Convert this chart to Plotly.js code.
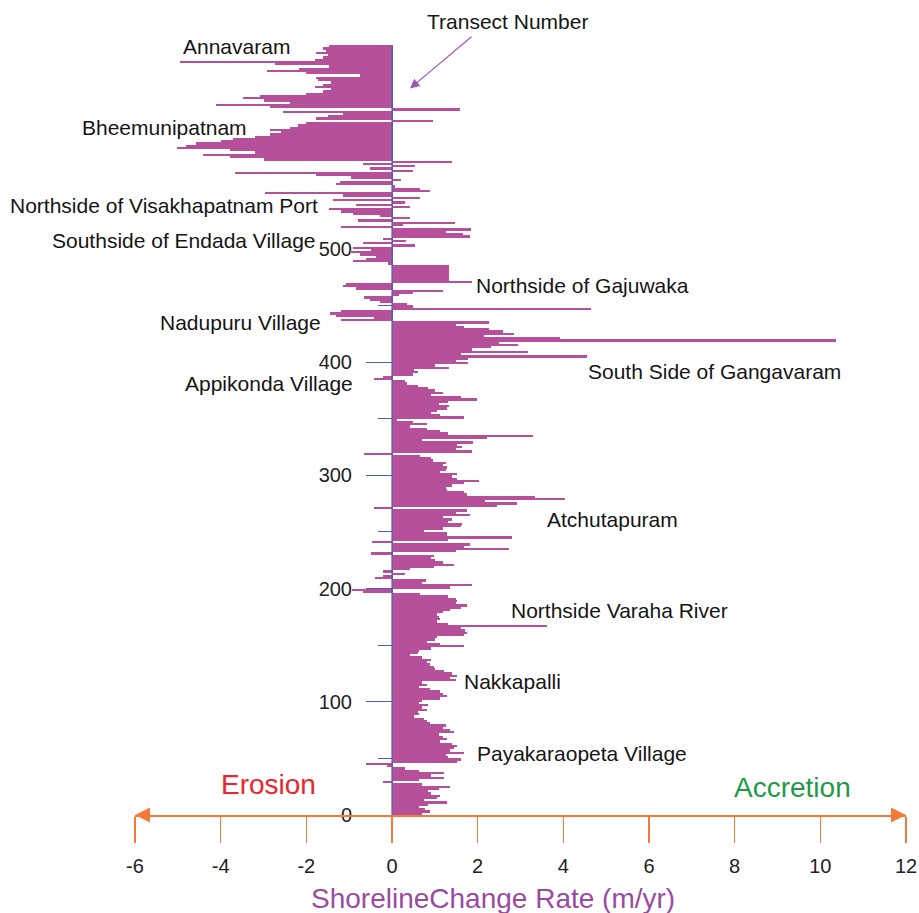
<!DOCTYPE html>
<html>
<head>
<meta charset="utf-8">
<script src="https://cdn.plot.ly/plotly-3.0.1.min.js"></script>
<style>html,body{margin:0;padding:0;background:#fff;}#chart{width:919px;height:913px;}</style>
</head>
<body>
<div id="chart"></div>
<script>
// Shoreline change rate (m/yr) per transect pair (transects 0..680, 2 transects per bar)
const rate = [
  0.70, 0.89, 0.78, 0.62, 0.85,   1.28, 0.75, 1.05, 1.13, 0.90,
  0.85, 1.10, 1.36, 0.70, -0.21,  0.62, 1.21, 0.90, 1.21, 0.62,
  0.30, -0.12, -0.60, 1.52, 1.60, 1.30, 1.25, 1.67, 1.36, 1.44,
  1.52, 1.40, 1.13, 1.28, 1.20,   1.10, 1.44, 1.36, 1.20, 1.25,
  0.89, 0.82, 0.75, 0.51, 0.62,   0.60, 0.82, 0.70, 0.85, 0.62,
  0.70, 1.13, 1.28, 1.20, 1.13,   0.89, 0.62, 0.82, 0.70, 1.50,
  1.36, 1.52, 1.40, 1.21, 1.00,   0.97, 0.89, 0.82, 0.90, 0.70,
  0.43, 0.60, 0.62, 0.90, 1.67,   1.13, 0.82, 1.00, 1.05, 1.67,
  1.75, 1.70, 1.60, 3.62, 1.30,   1.05, 1.13, 1.10, 1.05, 1.20,
  1.36, 1.60, 1.75, 1.50, 1.52,   1.50, 1.30, 0.66, -0.68, -0.93,
  1.36, 1.87, 0.70, 0.80, -0.39,  -0.21, 0.30, -0.21, 0.43, 0.97,
  1.44, 1.20, 1.00, 0.90, 0.97,   -0.50, 1.50, 2.72, 1.67, 1.83,
  -0.47, 1.30, 2.80, 1.28, 1.28,  0.75, 1.20, 1.60, 1.63, 1.30,
  1.40, 1.20, 1.83, 1.50, 1.75,   -0.43, 2.45, 2.92, 2.18, 4.05,
  3.35, 1.75, 1.67, 1.28, 1.25,   1.40, 1.67, 2.02, 1.52, 1.40,
  1.52, 1.13, 1.25, 1.28, 1.20,   1.25, 0.95, 0.90, 0.66, -0.66,
  1.87, 1.50, 1.63, 1.52, 1.90,   0.70, 2.22, 3.30, 1.30, 1.13,
  0.82, 0.43, 0.82, 0.50, 0.12,   1.67, 1.13, 0.90, 1.05, 1.28,
  1.32, 1.09, 1.30, 1.98, 1.60,   0.90, 1.20, 1.00, 0.83, 0.60,
  0.34, 0.30, -0.42, -0.20, 0.50, 0.60, 0.52, 1.33, 1.00, 1.78,
  1.50, 1.78, 4.56, 1.60, 3.17,   1.87, 2.30, 2.94, 2.50, 10.37,
  3.93, 2.14, 2.85, 2.60, 2.27,   1.69, 1.50, 2.27, -1.20, -0.42,
  -1.30, -1.45, -1.20, 4.65, 0.48, 0.34, -0.29, -0.51, -0.65, 0.16,
  0.50, 1.20, -0.83, -1.14, -1.07, 1.87, 1.33, 1.33, 1.33, 1.33,
  1.33, 1.33, 1.33, -0.10, -0.91, -0.60, -0.37, -0.75, -0.99, -0.50,
  -0.91, 0.53, -0.68, 0.33, -0.21, 1.81, 1.66, 1.27, 1.85, -1.18,
  0.26, 1.46, -0.79, 0.41, -0.29, -0.91, -1.20, -1.46, 0.41, -0.83,
  0.30, -1.38, 0.65, -1.14, -2.97, 0.88, 0.65, 0.06, -1.30, -1.22,
  0.20, -0.95, -1.77, -3.67, 0.49, -0.52, 0.53, -0.68, 1.39, -3.00,
  -3.79, -4.41, -3.20, -3.79, -5.03, -4.80, -4.57, -4.00, -3.71, -3.20,
  -2.86, -2.60, -2.86, -2.39, -2.20, -2.00, 0.96, -1.77, -1.50, -1.14,
  -2.54, 1.58, -2.86, -4.10, -2.39, -3.00, -3.48, -3.09, -2.00, -1.61,
  -1.42, -1.80, -1.61, -1.42, -1.73, -1.77, -0.75, -2.00, -2.93, -2.16,
  -1.46, -2.74, -4.96, -1.80, -1.60, -1.50, -1.77, -1.53, -1.60, -1.46
];
// transect number at the centre of each bar (bars are 2 transects wide)
const transect = rate.map((_, i) => 1 + 2 * i);

const xTicks = [-6, -4, -2, 0, 2, 4, 6, 8, 10, 12];
const yTicks = [0, 100, 200, 300, 400, 500, 600];

// place labels (positions as fractions of the plot area)
const placeNames = ["Annavaram", "Bheemunipatnam", "Northside of Visakhapatnam Port",
  "Southside of Endada Village", "Northside of Gajuwaka", "Nadupuru Village",
  "South Side of Gangavaram", "Appikonda Village", "Atchutapuram",
  "Northside Varaha River", "Nakkapalli", "Payakaraopeta Village"];
const placeX = [0.0597, -0.0713, -0.1647, -0.1103, 0.4397, 0.0298, 0.5849, 0.0623, 0.5318, 0.4851, 0.4241, 0.4410];
const placeY = [0.9987, 0.8935, 0.7922, 0.7455, 0.6883, 0.6390, 0.5766, 0.5610, 0.3844, 0.2662, 0.1740, 0.0805];

const FONT = "Liberation Sans, Arial, sans-serif";
const BAR = "#B6509B";
const ORANGE = "#F47A3C";
const BLUE = "#4F5FB3";

const annotations = placeNames.map((t, i) => ({
  x: placeX[i], y: placeY[i], xref: "paper", yref: "paper", text: t, showarrow: false,
  xanchor: "left", yanchor: "middle", font: {family: FONT, size: 21, color: "#151515"}
}));
annotations.push(
  {x: 0.4825, y: 1.0299, xref: "paper", yref: "paper", text: "Transect Number", showarrow: false,
   xanchor: "center", yanchor: "middle", font: {family: FONT, size: 21, color: "#151515"}},
  {x: 0.42, y: 641.6, xref: "x", yref: "y", text: "", showarrow: true, ax: 63, ay: -53,
   arrowcolor: "#9B59B6", arrowwidth: 1.2, arrowhead: 2, arrowsize: 1.6},
  {x: 0.1738, y: 0.0390, xref: "paper", yref: "paper", text: "Erosion", showarrow: false,
   xanchor: "center", yanchor: "middle", font: {family: FONT, size: 28, color: "#E8262C"}},
  {x: 0.8534, y: 0.0351, xref: "paper", yref: "paper", text: "Accretion", showarrow: false,
   xanchor: "center", yanchor: "middle", font: {family: FONT, size: 28, color: "#1E9A48"}},
  {x: 0.4643, y: -0.1078, xref: "paper", yref: "paper", text: "ShorelineChange Rate (m/yr)", showarrow: false,
   xanchor: "center", yanchor: "middle", font: {family: FONT, size: 28, color: "#9A4B9F"}},
  {x: 12, y: 0, xref: "x", yref: "y", text: "", showarrow: true, ax: -16, ay: 0,
   arrowcolor: ORANGE, arrowwidth: 1.5, arrowhead: 2, arrowsize: 2},
  {x: -6, y: 0, xref: "x", yref: "y", text: "", showarrow: true, ax: 16, ay: 0,
   arrowcolor: ORANGE, arrowwidth: 1.5, arrowhead: 2, arrowsize: 2}
);

const data = [{
  type: "bar", orientation: "h", x: rate, y: transect, width: 2,
  marker: {color: BAR, line: {width: 0}}, hoverinfo: "x+y"
}];

const layout = {
  width: 919, height: 913,
  margin: {l: 135, r: 13, t: 45, b: 98, pad: 0},
  paper_bgcolor: "#fff", plot_bgcolor: "#fff",
  showlegend: false, bargap: 0,
  font: {family: FONT, color: "#222"},
  xaxis: {
    range: [-6, 12], tickvals: xTicks, ticktext: xTicks.map(String),
    showline: true, linecolor: ORANGE, linewidth: 1.5,
    ticks: "outside", ticklen: 26, tickwidth: 1.5, tickcolor: ORANGE,
    showgrid: false, zeroline: false, ticklabelstandoff: 6,
    tickfont: {family: FONT, size: 20, color: "#222"}
  },
  yaxis: {
    range: [0, 680], anchor: "free", position: 6 / 18,
    tickvals: yTicks, ticktext: yTicks.map(String),
    showline: true, linecolor: BLUE, linewidth: 1,
    ticks: "outside", ticklen: 26, tickwidth: 1, tickcolor: BLUE,
    minor: {dtick: 50, tick0: 0, ticks: "outside", ticklen: 14, tickcolor: BLUE, tickwidth: 1, showgrid: false},
    showgrid: false, zeroline: false, layer: "below traces", ticklabelstandoff: 10,
    tickfont: {family: FONT, size: 20, color: "#222"}
  },
  shapes: [{type: "line", xref: "x", yref: "y", x0: 0, x1: 0, y0: 0, y1: 680,
            layer: "above", line: {color: BLUE, width: 1.2}}],
  annotations: annotations
};

Plotly.newPlot("chart", data, layout, {displayModeBar: false, staticPlot: true});
</script>
</body>
</html>
